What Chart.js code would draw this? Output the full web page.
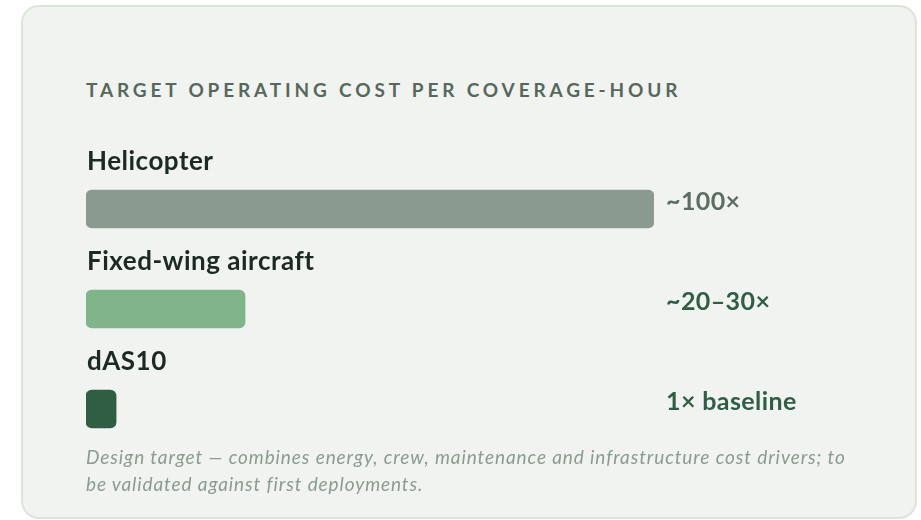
<!DOCTYPE html>
<html lang="en">

<head>
    <meta charset="UTF-8">
    <title>Target Operating Cost per Coverage-Hour</title>

    <style>
        body {
            margin: 0;
            background: #ffffff;
            font-family: Lato, "Open Sans", sans-serif;
        }

        .card {
            position: absolute;
            left: 21px;
            top: 5px;
            width: 892px;
            height: 510px;
            border: 2px solid #dce4db;
            border-radius: 18px;
            background: #f1f3f0;
        }

        .title {
            position: absolute;
            left: 63px;
            top: 71px;
            margin: 0;
            font-size: 19px;
            font-weight: 700;
            letter-spacing: 3.85px;
            color: #56685c;
            white-space: nowrap;
        }

        .chart {
            position: absolute;
            left: 63px;
            top: 123px;
            width: 820px;
            height: 330px;
        }

        .note {
            position: absolute;
            left: 63px;
            top: 436px;
            margin: 0;
            font-size: 19px;
            font-style: italic;
            letter-spacing: 0.9px;
            line-height: 27px;
            color: #8b9b8f;
            white-space: nowrap;
        }
    </style>
</head>

<body>
    <div class="card">
        <h2 class="title">TARGET OPERATING COST PER COVERAGE-HOUR</h2>
        <div class="chart">
            <canvas id="costChart"></canvas>
        </div>
        <p class="note">Design target — combines energy, crew, maintenance and infrastructure cost drivers; to<br>be validated against first deployments.</p>
    </div>

    <script src="https://cdn.jsdelivr.net/npm/chart.js"></script>

    <script>
        // values (bar length as % of the helicopter bar)
        const categories = ["Helicopter", "Fixed-wing aircraft", "dAS10"];
        const barValues = [100, 28, 5.3];
        const valueLabels = ["~100×", "~20–30×", "1× baseline"];

        const barColors = ["#8a9a8e", "#80b58a", "#2f5e45"];
        const valueColors = ["#5b6e61", "#2f5e45", "#2f5e45"];

        // category name above each bar, value text in a column on the right
        const rowLabels = {
            id: "rowLabels",
            afterDatasetsDraw(chart) {
                const ctx = chart.ctx;
                const area = chart.chartArea;
                const bars = chart.getDatasetMeta(0).data;
                ctx.save();
                ctx.textBaseline = "alphabetic";
                ctx.textAlign = "left";
                bars.forEach((bar, i) => {
                    ctx.font = "700 26px Lato, 'Open Sans', sans-serif";
                    ctx.letterSpacing = "0.5px";
                    ctx.fillStyle = "#1c2a21";
                    ctx.fillText(categories[i], area.left + 1, bar.y - 39.5);
                    ctx.font = "700 25px Lato, 'Open Sans', sans-serif";
                    ctx.letterSpacing = "0.4px";
                    ctx.fillStyle = valueColors[i];
                    ctx.fillText(valueLabels[i], area.right + 12, bar.y + 1);
                });
                ctx.restore();
            }
        };

        let ctx = document.getElementById("costChart").getContext("2d");
        let costChart = new Chart(ctx, {
            type: "bar",
            data: {
                labels: categories,
                datasets: [{
                    data: barValues,
                    backgroundColor: barColors,
                    borderRadius: 6,
                    borderSkipped: false,
                    barThickness: 38
                }]
            },
            options: {
                indexAxis: "y",
                responsive: true,
                maintainAspectRatio: false,
                animation: false,
                layout: {
                    padding: { top: 29, bottom: 1, left: 0, right: 252 }
                },
                scales: {
                    x: { display: false, min: 0, max: 100 },
                    y: { display: false }
                },
                plugins: {
                    legend: { display: false },
                    tooltip: { enabled: false }
                }
            },
            plugins: [rowLabels]
        });
    </script>
</body>

</html>
